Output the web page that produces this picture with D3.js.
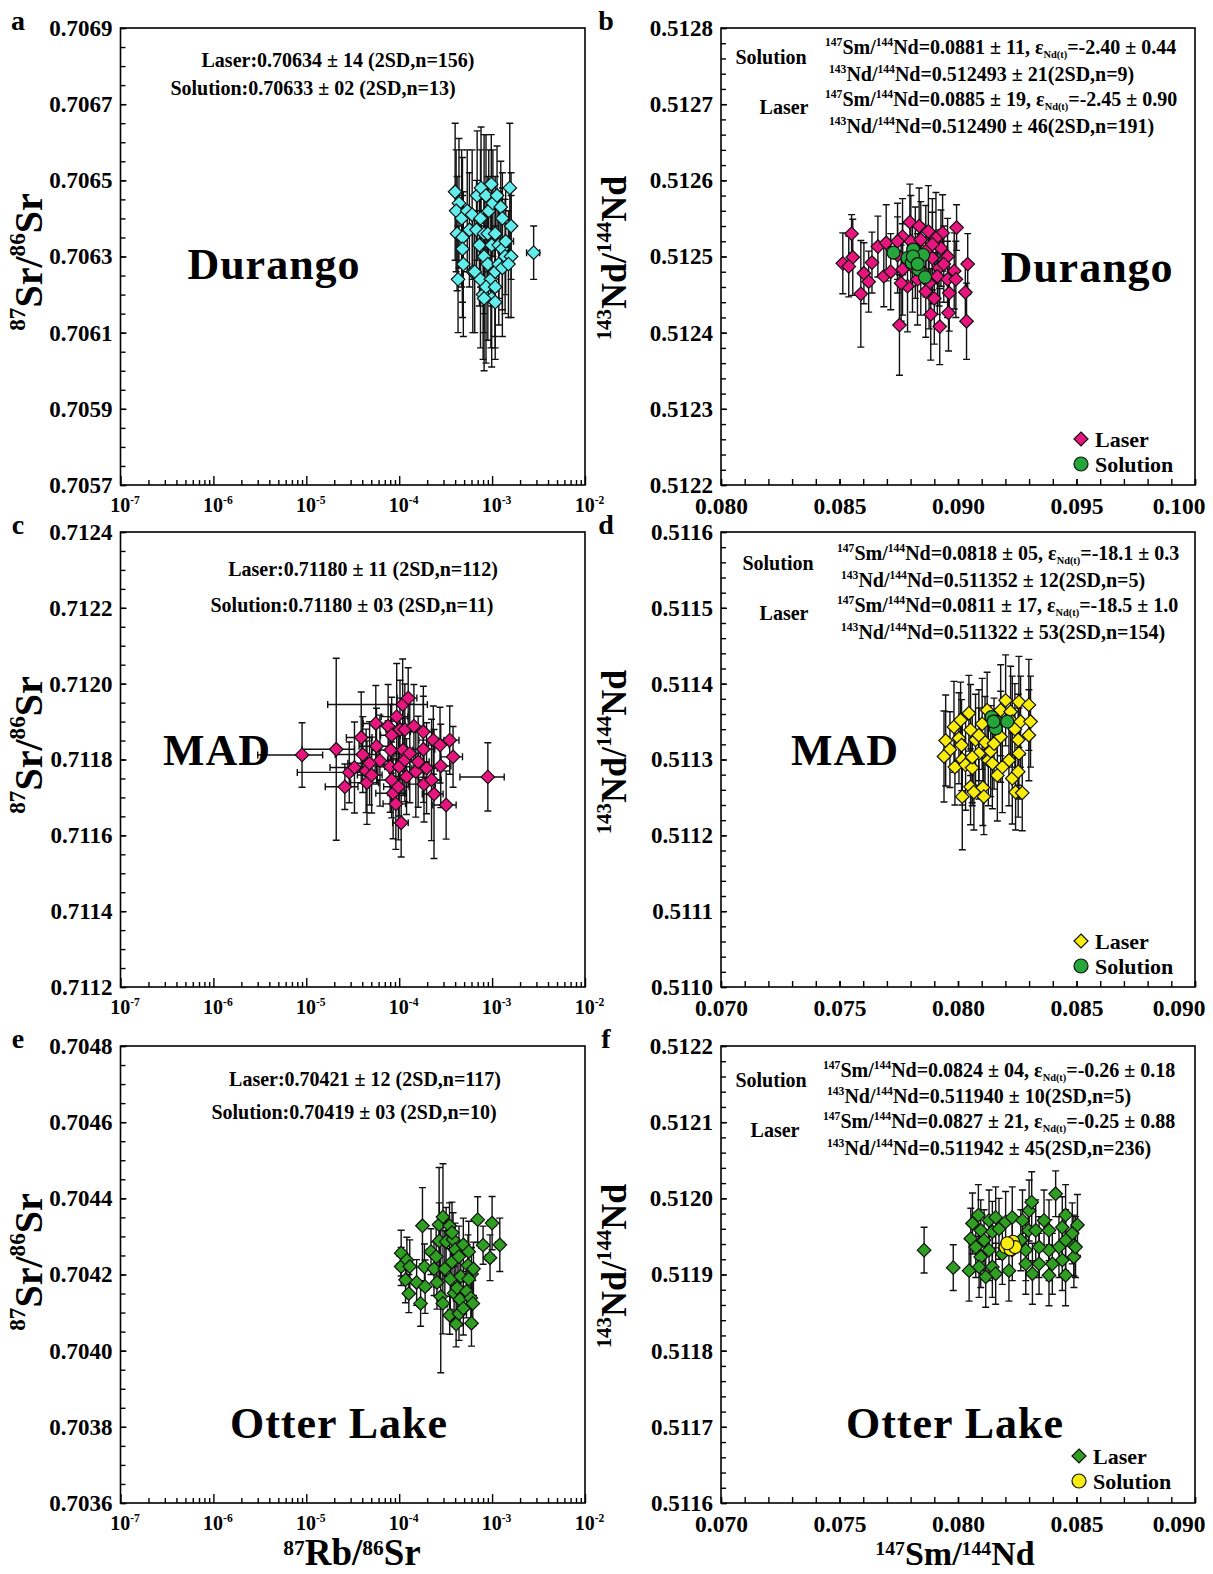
<!DOCTYPE html>
<html>
<head>
<meta charset="utf-8">
<script src="https://cdn.jsdelivr.net/npm/d3@7"></script>
<style>
  body { margin: 0; background: #fff; }
  svg { display: block; }
  text { font-family: "Liberation Serif", "Times New Roman", serif; font-weight: bold; fill: #000; }
</style>
</head>
<body>
<svg id="fig" width="1213" height="1574"></svg>
<script>
// ---- Sr isotopes: [87Rb/86Sr, 87Sr/86Sr, 2SD x, 2SD y] ----
const durangoSrLaser = [
  [4.0e-4,0.70647,2e-5,0.00018],[4.4e-4,0.70644,2e-5,0.00017],[4.1e-4,0.70642,2e-5,0.00016],
  [4.7e-4,0.70640,3e-5,0.00018],[4.2e-4,0.70636,2e-5,0.00015],[4.8e-4,0.70635,3e-5,0.00021],
  [4.8e-4,0.70632,3e-5,0.00014],[4.9e-4,0.70628,3e-5,0.00019],[4.3e-4,0.70624,2e-5,0.00014],
  [5.4e-4,0.70642,3e-5,0.00016],[6.1e-4,0.70641,4e-5,0.00017],[5.7e-4,0.70637,3e-5,0.00015],
  [6.2e-4,0.70626,4e-5,0.00016],[6.9e-4,0.70646,4e-5,0.00017],[7.6e-4,0.70648,5e-5,0.00016],
  [8.6e-4,0.70646,5e-5,0.00016],[9.8e-4,0.70649,6e-5,0.00013],[6.8e-4,0.70637,4e-5,0.00013],
  [7.5e-4,0.70640,5e-5,0.00018],[8.2e-4,0.70636,5e-5,0.00026],[9.2e-4,0.70642,6e-5,0.00016],
  [1.02e-3,0.70644,6e-5,0.00014],[1.13e-3,0.70646,7e-5,0.00013],[1.24e-3,0.70643,8e-5,0.00012],
  [1.55e-3,0.70648,9e-5,0.00017],[1.6e-3,0.70638,9e-5,0.00014],[1.29e-3,0.70640,8e-5,0.00012],
  [7.3e-4,0.70633,5e-5,0.00016],[8.2e-4,0.70630,5e-5,0.00015],[9.0e-4,0.70636,6e-5,0.00015],
  [9.9e-4,0.70633,6e-5,0.00016],[1.08e-3,0.70636,7e-5,0.00015],[1.18e-3,0.70633,7e-5,0.00014],
  [1.29e-3,0.70632,8e-5,0.00016],[1.4e-3,0.70634,3e-4,0.00014],[1.38e-3,0.70630,8e-5,0.00015],
  [1.6e-3,0.70630,9e-5,0.00016],[6.5e-4,0.70626,4e-5,0.00016],[7.5e-4,0.70624,5e-5,0.00018],
  [9.0e-4,0.70628,6e-5,0.00020],[9.7e-4,0.70624,6e-5,0.00018],[1.08e-3,0.70626,7e-5,0.00017],
  [1.18e-3,0.70628,7e-5,0.00016],[1.29e-3,0.70627,8e-5,0.00018],[8.0e-4,0.70620,5e-5,0.00017],
  [8.6e-4,0.70622,5e-5,0.00020],[9.9e-4,0.70619,6e-5,0.00018],[1.08e-3,0.70622,6e-5,0.00016],
  [1.08e-3,0.70618,6e-5,0.00015],[8.2e-4,0.70619,5e-5,0.00019],[1.5e-3,0.70628,9e-5,0.00014],
  [2.8e-3,0.70631,4.5e-4,0.00007]
];
const madSrLaser = [
  [9.0e-6,0.711812,6e-6,0.000085],[2.1e-5,0.711827,1.2e-5,0.00024],[2.6e-5,0.711728,1.0e-5,0.00006],
  [2.9e-5,0.711766,2.1e-5,0.00008],[3.3e-5,0.711779,1.5e-5,0.00012],[3.9e-5,0.711858,1.2e-5,0.00012],
  [4.05e-5,0.711813,2e-5,0.00010],[4.4e-5,0.711770,1.5e-5,0.00011],[4.5e-5,0.711739,1.5e-5,0.00011],
  [5.6e-5,0.711895,1.5e-5,0.00010],[5.7e-5,0.711835,2e-5,0.00010],[6.2e-5,0.711797,2e-5,0.00012],
  [5.05e-5,0.711759,1.5e-5,0.00010],[7.6e-5,0.711888,2e-5,0.00011],[8.3e-5,0.711864,2e-5,0.00010],
  [8.1e-5,0.711825,3e-5,0.00012],[8.0e-5,0.711781,2.5e-5,0.00012],[8.3e-5,0.711746,2.5e-5,0.00010],
  [8.6e-5,0.711711,3e-5,0.00012],[9.2e-5,0.711683,2.5e-5,0.00012],[1.05e-4,0.711633,2e-5,0.00009],
  [9.8e-5,0.711728,3e-5,0.00014],[1.0e-4,0.711781,3e-5,0.00013],[1.02e-4,0.711879,3e-5,0.00013],
  [1.09e-4,0.711945,9.2e-5,0.00012],[1.25e-4,0.711962,3e-5,0.00008],[9.4e-5,0.711913,3e-5,0.00014],
  [1.15e-4,0.711879,3e-5,0.00012],[1.1e-4,0.711825,3e-5,0.00012],[1.15e-4,0.711799,4e-5,0.00011],
  [1.2e-4,0.711755,4e-5,0.00010],[1.3e-4,0.711816,4e-5,0.00013],[1.44e-4,0.711888,4e-5,0.00011],
  [1.51e-4,0.711768,5e-5,0.00012],[1.6e-4,0.711794,5e-5,0.00012],[1.82e-4,0.711873,5e-5,0.00012],
  [1.82e-4,0.711827,6e-5,0.00014],[1.97e-4,0.711777,6e-5,0.00012],[1.85e-4,0.711735,6e-5,0.00010],
  [2.23e-4,0.711746,6e-5,0.00016],[2.37e-4,0.711709,6e-5,0.00017],[2.33e-4,0.711851,7e-5,0.00009],
  [2.75e-4,0.711838,7e-5,0.00010],[2.8e-4,0.711783,8e-5,0.00011],[3.5e-4,0.711851,9e-5,0.00009],
  [3.8e-4,0.711807,1e-4,0.00008],[3.2e-4,0.711680,9e-5,0.00009],[9.0e-4,0.711754,4.5e-4,0.00009],
  [4.8e-5,0.711790,2e-5,0.00011]
];
const otterSrLaser = [
  [1.05e-4,0.704256,1e-5,0.00006],[1.05e-4,0.704221,1e-5,0.00005],[1.21e-4,0.704238,1e-5,0.00006],
  [1.3e-4,0.704221,1e-5,0.00007],[1.17e-4,0.704186,1e-5,0.00006],[1.27e-4,0.704150,1e-5,0.00005],
  [1.54e-4,0.704179,1.5e-5,0.00006],[1.7e-4,0.704124,1.5e-5,0.00006],[1.78e-4,0.704328,1.5e-5,0.00010],
  [1.87e-4,0.704220,1.5e-5,0.00006],[1.9e-4,0.704168,2e-5,0.00007],[2.2e-4,0.704260,2e-5,0.00006],
  [2.37e-4,0.704215,2e-5,0.00007],[2.5e-4,0.704247,2e-5,0.00008],[2.55e-4,0.704179,2e-5,0.00007],
  [2.69e-4,0.704331,2.5e-5,0.00015],[2.7e-4,0.704288,2.5e-5,0.00010],[2.96e-4,0.704351,2.5e-5,0.00014],
  [2.8e-4,0.704142,2.5e-5,0.00020],[2.95e-4,0.704124,2.5e-5,0.00008],[3.1e-4,0.704215,3e-5,0.00010],
  [3.2e-4,0.704286,3e-5,0.00009],[3.48e-4,0.704328,3e-5,0.00006],[3.55e-4,0.704188,3e-5,0.00008],
  [3.8e-4,0.704292,3e-5,0.00007],[3.7e-4,0.704233,3e-5,0.00008],[3.5e-4,0.704093,3e-5,0.00005],
  [3.9e-4,0.704151,3.5e-5,0.00007],[4.0e-4,0.704265,3.5e-5,0.00007],[4.2e-4,0.704165,3.5e-5,0.00007],
  [4.1e-4,0.704070,3.5e-5,0.00006],[4.4e-4,0.704097,4e-5,0.00007],[4.4e-4,0.704247,4e-5,0.00008],
  [4.5e-4,0.704135,4e-5,0.00007],[4.6e-4,0.704195,4e-5,0.00008],[4.9e-4,0.704278,4e-5,0.00007],
  [4.9e-4,0.704111,4e-5,0.00007],[5.3e-4,0.704156,5e-5,0.00007],[5.5e-4,0.704224,5e-5,0.00008],
  [5.6e-4,0.704260,5e-5,0.00008],[5.9e-4,0.704138,5e-5,0.00007],[6.0e-4,0.704201,5e-5,0.00007],
  [6.2e-4,0.704124,5e-5,0.00006],[6.0e-4,0.704072,5e-5,0.00006],[6.3e-4,0.704215,5e-5,0.00007],
  [7.0e-4,0.704344,6e-5,0.00006],[8.0e-4,0.704277,8e-5,0.00005],[9.5e-4,0.704244,1e-4,0.00006],
  [1.0e-3,0.704335,1e-4,0.00007],[1.21e-3,0.704278,1.2e-4,0.00007],[5.6e-4,0.704188,5e-5,0.00007],
  [3.7e-4,0.704310,3e-5,0.00008]
];

// ---- Nd isotopes: [147Sm/144Nd, 143Nd/144Nd, 2SD x, 2SD y] ----
const durangoNdLaser = [
  [0.08514,0.512491,0.0001,0.00004],[0.08551,0.512530,0.0001,0.000025],[0.08556,0.512499,0.0001,0.00005],
  [0.08539,0.512487,0.0001,0.00004],[0.08590,0.512451,0.0001,0.00007],[0.08603,0.512478,0.0001,0.00004],
  [0.08623,0.512467,0.0001,0.00004],[0.08637,0.512492,0.0001,0.00004],[0.08662,0.512513,0.0001,0.00004],
  [0.08687,0.512474,0.0001,0.00004],[0.08753,0.512410,0.0001,0.000066],[0.08885,0.512424,0.0001,0.00006],
  [0.08923,0.512408,0.0001,0.00005],[0.08960,0.512426,0.0001,0.00005],[0.09036,0.512415,0.0001,0.00005],
  [0.09041,0.512490,0.0001,0.00004],[0.08994,0.512538,0.0001,0.00003],[0.09031,0.512453,0.0001,0.00004],
  [0.08697,0.512518,0.0001,0.00005],[0.08797,0.512545,0.0001,0.00005],[0.08836,0.512540,0.0001,0.00005],
  [0.08875,0.512533,0.0001,0.00006],[0.08935,0.512531,0.0001,0.00005],[0.08766,0.512526,0.0001,0.00005],
  [0.08801,0.512520,0.0001,0.00006],[0.08843,0.512522,0.0001,0.00005],[0.08907,0.512524,0.0001,0.00006],
  [0.08745,0.512502,0.0001,0.00005],[0.08864,0.512507,0.0001,0.00006],[0.08928,0.512511,0.0001,0.00005],
  [0.08892,0.512498,0.0001,0.00006],[0.08956,0.512500,0.0001,0.00005],[0.08766,0.512483,0.0001,0.00006],
  [0.08808,0.512487,0.0001,0.00006],[0.08920,0.512485,0.0001,0.00005],[0.08984,0.512481,0.0001,0.00005],
  [0.08716,0.512480,0.0001,0.00005],[0.08787,0.512461,0.0001,0.00006],[0.08829,0.512470,0.0001,0.00006],
  [0.08878,0.512465,0.0001,0.00006],[0.08913,0.512474,0.0001,0.00005],[0.08956,0.512470,0.0001,0.00005],
  [0.08991,0.512470,0.0001,0.00005],[0.08864,0.512454,0.0001,0.00006],[0.08963,0.512452,0.0001,0.00005],
  [0.08843,0.512483,0.0001,0.00006],[0.08745,0.512520,0.0001,0.00005],[0.08892,0.512516,0.0001,0.00006],
  [0.08760,0.512465,0.0001,0.00005],[0.08900,0.512445,0.0001,0.00006],[0.08820,0.512505,0.0001,0.00006],
  [0.08940,0.512490,0.0001,0.00005]
];
const durangoNdSolution = [
  [0.08728,0.512505],[0.08787,0.512498],[0.08811,0.512509],[0.08805,0.512492],[0.08853,0.512502],
  [0.08833,0.512483],[0.08861,0.512473],[0.08810,0.512500],[0.08830,0.512490]
];
const madNdLaser = [
  [0.07948,0.511325,0.0001,0.00006],[0.07966,0.511313,0.0001,0.00005],[0.07941,0.511304,0.0001,0.00006],
  [0.07983,0.511343,0.0001,0.00006],[0.08011,0.511352,0.0001,0.00005],[0.08046,0.511361,0.0001,0.00005],
  [0.08004,0.511328,0.0001,0.00006],[0.08015,0.511319,0.0001,0.00006],[0.07987,0.511290,0.0001,0.00005],
  [0.08018,0.511300,0.0001,0.00006],[0.08032,0.511293,0.0001,0.00006],[0.08060,0.511289,0.0001,0.00005],
  [0.08053,0.511339,0.0001,0.00006],[0.08074,0.511326,0.0001,0.00006],[0.08088,0.511308,0.0001,0.00006],
  [0.08102,0.511347,0.0001,0.00006],[0.08114,0.511323,0.0001,0.00006],[0.08128,0.511299,0.0001,0.00006],
  [0.08138,0.511311,0.0001,0.00006],[0.08152,0.511321,0.0001,0.00006],[0.08123,0.511365,0.0001,0.00005],
  [0.08180,0.511365,0.0001,0.00006],[0.08201,0.511378,0.0001,0.00006],[0.08222,0.511363,0.0001,0.00006],
  [0.08229,0.511350,0.0001,0.00006],[0.08240,0.511340,0.0001,0.00006],[0.08257,0.511376,0.0001,0.00006],
  [0.08299,0.511372,0.0001,0.00006],[0.08264,0.511350,0.0001,0.00006],[0.08306,0.511350,0.0001,0.00006],
  [0.08299,0.511332,0.0001,0.00006],[0.08254,0.511326,0.0001,0.00006],[0.08257,0.511308,0.0001,0.00006],
  [0.08215,0.511299,0.0001,0.00006],[0.08187,0.511290,0.0001,0.00006],[0.08166,0.511279,0.0001,0.00006],
  [0.08229,0.511275,0.0001,0.00006],[0.08254,0.511284,0.0001,0.00006],[0.08053,0.511264,0.0001,0.00005],
  [0.08018,0.511251,0.0001,0.00007],[0.08067,0.511257,0.0001,0.00005],[0.08105,0.511263,0.0001,0.00005],
  [0.08109,0.511251,0.0001,0.00005],[0.08243,0.511257,0.0001,0.00005],[0.08271,0.511256,0.0001,0.00005],
  [0.08060,0.511303,0.0001,0.00006],[0.08088,0.511332,0.0001,0.00006],[0.08180,0.511330,0.0001,0.00006],
  [0.08145,0.511295,0.0001,0.00006]
];
const madNdSolution = [
  [0.08142,0.511356],[0.08161,0.511350],[0.08159,0.511341],[0.08208,0.511350],[0.08150,0.511350]
];
const otterNdLaser = [
  [0.07857,0.511932,0.0001,0.00003],[0.07980,0.511909,0.0001,0.00003],[0.08061,0.511967,0.0001,0.00004],
  [0.08086,0.511978,0.0001,0.00004],[0.08054,0.511947,0.0001,0.00004],[0.08096,0.511958,0.0001,0.00004],
  [0.08075,0.511936,0.0001,0.00004],[0.08110,0.511945,0.0001,0.00004],[0.08047,0.511905,0.0001,0.00004],
  [0.08096,0.511923,0.0001,0.00004],[0.08131,0.511971,0.0001,0.00004],[0.08145,0.511956,0.0001,0.00004],
  [0.08159,0.511975,0.0001,0.00004],[0.08131,0.511932,0.0001,0.00004],[0.08089,0.511910,0.0001,0.00004],
  [0.08145,0.511910,0.0001,0.00004],[0.08173,0.511960,0.0001,0.00004],[0.08201,0.511969,0.0001,0.00004],
  [0.08229,0.511975,0.0001,0.00004],[0.08272,0.511971,0.0001,0.00004],[0.08300,0.511984,0.0001,0.00004],
  [0.08311,0.511995,0.0001,0.00004],[0.08297,0.511958,0.0001,0.00004],[0.08328,0.511958,0.0001,0.00004],
  [0.08363,0.511971,0.0001,0.00004],[0.08384,0.511958,0.0001,0.00004],[0.08412,0.512006,0.0001,0.00003],
  [0.08454,0.511978,0.0001,0.00004],[0.08440,0.511962,0.0001,0.00004],[0.08482,0.511954,0.0001,0.00004],
  [0.08504,0.511965,0.0001,0.00004],[0.08489,0.511938,0.0001,0.00004],[0.08454,0.511945,0.0001,0.00004],
  [0.08426,0.511936,0.0001,0.00004],[0.08384,0.511932,0.0001,0.00004],[0.08342,0.511936,0.0001,0.00004],
  [0.08286,0.511932,0.0001,0.00004],[0.08265,0.511945,0.0001,0.00004],[0.08229,0.511932,0.0001,0.00004],
  [0.08187,0.511927,0.0001,0.00004],[0.08286,0.511914,0.0001,0.00004],[0.08342,0.511914,0.0001,0.00004],
  [0.08398,0.511914,0.0001,0.00004],[0.08440,0.511919,0.0001,0.00004],[0.08489,0.511923,0.0001,0.00004],
  [0.08496,0.511936,0.0001,0.00004],[0.08215,0.511905,0.0001,0.00004],[0.08159,0.511901,0.0001,0.00004],
  [0.08314,0.511901,0.0001,0.00004],[0.08384,0.511899,0.0001,0.00004],[0.08454,0.511899,0.0001,0.00004],
  [0.08117,0.511897,0.0001,0.00004]
];
const otterNdSolution = [
  [0.08201,0.511936],[0.08232,0.511943],[0.08222,0.511933],[0.08241,0.511936],[0.08208,0.511941]
];

// ---- axis ticks ----
const rbSrDecades = [1e-7, 1e-6, 1e-5, 1e-4, 1e-3, 1e-2];
const durangoSrTicks = [0.7057, 0.7059, 0.7061, 0.7063, 0.7065, 0.7067, 0.7069];
const madSrTicks = [0.7112, 0.7114, 0.7116, 0.7118, 0.7120, 0.7122, 0.7124];
const otterSrTicks = [0.7036, 0.7038, 0.7040, 0.7042, 0.7044, 0.7046, 0.7048];
const durangoNdTicks = [0.5122, 0.5123, 0.5124, 0.5125, 0.5126, 0.5127, 0.5128];
const madNdTicks = [0.5110, 0.5111, 0.5112, 0.5113, 0.5114, 0.5115, 0.5116];
const otterNdTicks = [0.5116, 0.5117, 0.5118, 0.5119, 0.5120, 0.5121, 0.5122];
const durangoSmNdTicks = [0.080, 0.085, 0.090, 0.095, 0.100];
const smNdTicks = [0.070, 0.075, 0.080, 0.085, 0.090];

const COL = {
  cyan: '#62eded', pink: '#e8157e', greenDot: '#25a63a', yellow: '#f7ec0c',
  greenDia: '#2f9f22', yellowDot: '#f8ec10'
};

const svg = d3.select('#fig');
const PAGE_W = 1213;

// Writes a run of normal / superscript / subscript pieces into a <text>.
function rich(textSel, segs, size, supRaise) {
  const raise = supRaise || 0.42;
  let shift = 0;
  segs.forEach(([t, k]) => {
    const target = k === 'sup' ? -raise * size : k === 'sub' ? 0.22 * size : 0;
    const fs = k === 'sup' ? 0.58 * size : k === 'sub' ? 0.52 * size : size;
    textSel.append('tspan').attr('dy', (target - shift).toFixed(2)).attr('font-size', fs).text(t);
    shift = target;
  });
  return textSel;
}

function diamondPath(r) { return `M0,${-r}L${r},0L0,${r}L${-r},0Z`; }

function drawPanel(c) {
  const g = svg.append('g');
  const x = c.xLog ? d3.scaleLog().domain(c.xDomain).range([c.L, c.R])
                   : d3.scaleLinear().domain(c.xDomain).range([c.L, c.R]);
  const y = d3.scaleLinear().domain([c.yTicks[0], c.yTicks[c.yTicks.length - 1]]).range([c.B, c.T]);

  // y axis: minor then labelled major ticks, pointing inward
  const ySpan = c.yTicks[c.yTicks.length - 1] - c.yTicks[0];
  const nMinor = Math.round(ySpan / c.yMinorStep);
  const yMinor = d3.range(nMinor + 1).map(i => c.yTicks[0] + i * c.yMinorStep);
  g.append('g').attr('transform', `translate(${c.L},0)`)
    .call(d3.axisLeft(y).tickValues(yMinor).tickSize(-5).tickFormat(''))
    .call(s => s.select('.domain').remove());
  g.append('g').attr('transform', `translate(${c.L},0)`)
    .call(d3.axisLeft(y).tickValues(c.yTicks).tickSize(-6).tickPadding(8).tickFormat(d3.format('.4f')))
    .call(s => s.select('.domain').remove())
    .call(s => s.selectAll('text').attr('font-size', 23).attr('font-family', null));

  // x axis
  if (c.xLog) {
    const minor = [];
    for (let e = -7; e < -2; e++) for (let k = 2; k <= 9; k++) minor.push(k * Math.pow(10, e));
    g.append('g').attr('transform', `translate(0,${c.B})`)
      .call(d3.axisBottom(x).tickValues(minor).tickSize(-5).tickFormat(''))
      .call(s => s.select('.domain').remove());
    const ax = g.append('g').attr('transform', `translate(0,${c.B})`)
      .call(d3.axisBottom(x).tickValues(rbSrDecades).tickSize(-9).tickPadding(14).tickFormat(''))
      .call(s => s.select('.domain').remove());
    ax.selectAll('.tick').each(function (d) {
      const t = d3.select(this).append('text').attr('y', 27).attr('text-anchor', 'middle')
        .attr('font-family', null).attr('x', 4);
      rich(t, [['10', 'n'], [String(Math.round(Math.log10(d))), 'sup']], 20);
    });
  } else {
    const nx = Math.round((c.xDomain[1] - c.xDomain[0]) / 0.001);
    const xMinor = d3.range(nx + 1).map(i => c.xDomain[0] + i * 0.001);
    g.append('g').attr('transform', `translate(0,${c.B})`)
      .call(d3.axisBottom(x).tickValues(xMinor).tickSize(-6).tickFormat(''))
      .call(s => s.select('.domain').remove());
    const ax = g.append('g').attr('transform', `translate(0,${c.B})`)
      .call(d3.axisBottom(x).tickValues(c.xTicks).tickSize(-6).tickPadding(12).tickFormat(d3.format('.3f')))
      .call(s => s.select('.domain').remove())
      .call(s => s.selectAll('text').attr('font-size', 23.5).attr('font-family', null));
    // keep the last label inside the page
    ax.selectAll('.tick').filter((d, i, n) => i === n.length - 1).select('text')
      .attr('text-anchor', 'end').attr('x', PAGE_W - 8 - c.R);
  }
  g.selectAll('.tick line').attr('stroke', '#000').attr('stroke-width', 1.4);

  // frame
  g.append('rect').attr('x', c.L).attr('y', c.T).attr('width', c.R - c.L).attr('height', c.B - c.T)
    .attr('fill', 'none').attr('stroke', '#000').attr('stroke-width', 1.6);

  // error bars (2SD) for laser spots
  const eb = g.append('g').attr('stroke', '#111').attr('stroke-width', 1.4).attr('fill', 'none');
  const xlo = v => c.xLog ? Math.max(v, c.xDomain[0]) : v;
  c.laser.forEach(([vx, vy, ex, ey]) => {
    const px = x(vx), py = y(vy);
    const y1 = y(vy - ey), y2 = y(vy + ey);
    const x1 = x(xlo(vx - ex)), x2 = x(vx + ex);
    eb.append('path').attr('d',
      `M${px},${y1}V${y2}M${px - 3.5},${y1}H${px + 3.5}M${px - 3.5},${y2}H${px + 3.5}` +
      `M${x1},${py}H${x2}M${x1},${py - 3.5}V${py + 3.5}M${x2},${py - 3.5}V${py + 3.5}`);
  });

  // laser spots
  g.append('g').selectAll('path').data(c.laser).join('path')
    .attr('d', diamondPath(6.8))
    .attr('transform', d => `translate(${x(d[0])},${y(d[1])})`)
    .attr('fill', c.laserColor).attr('stroke', '#111').attr('stroke-width', 1.2);

  // solution analyses
  if (c.solution) {
    g.append('g').selectAll('circle').data(c.solution).join('circle')
      .attr('cx', d => x(d[0])).attr('cy', d => y(d[1])).attr('r', 6.5)
      .attr('fill', c.solutionColor).attr('stroke', '#111').attr('stroke-width', 1.2);
  }

  // panel letter
  g.append('text').attr('x', c.letterX).attr('y', c.T + 2).attr('font-size', 28).attr('text-anchor', 'middle')
    .text(c.letter);

  // sample name
  g.append('text').attr('x', c.name[1]).attr('y', c.name[2] + 15).attr('font-size', 44)
    .attr('text-anchor', 'middle').attr('letter-spacing', 1).text(c.name[0]);

  // summary statistics
  (c.notes || []).forEach(n => {
    const t = g.append('text').attr('x', n.x).attr('y', n.y + 7).attr('font-size', 20)
      .attr('text-anchor', n.anchor || 'middle');
    rich(t, n.segs, 20);
  });

  // legend
  if (c.legend) {
    const [lx, ly] = c.legend;
    g.append('path').attr('d', diamondPath(7)).attr('transform', `translate(${lx},${ly})`)
      .attr('fill', c.laserColor).attr('stroke', '#111').attr('stroke-width', 1.2);
    g.append('circle').attr('cx', lx).attr('cy', ly + 25).attr('r', 7)
      .attr('fill', c.solutionColor).attr('stroke', '#111').attr('stroke-width', 1.2);
    g.append('text').attr('x', lx + 14).attr('y', ly + 8).attr('font-size', 22).text('Laser');
    g.append('text').attr('x', lx + 14).attr('y', ly + 33).attr('font-size', 22).text('Solution');
  }

  // y axis title
  const yt = g.append('text').attr('text-anchor', 'middle')
    .attr('transform', `translate(${c.yTitle[0] + 12},${c.yTitle[1]}) rotate(-90)`);
  rich(yt, c.yTitleSegs, c.yTitleSize);
}

const srTitle = [['87', 'sup'], ['Sr/', 'n'], ['86', 'sup'], ['Sr', 'n']];
const ndTitle = [['143', 'sup'], ['Nd/', 'n'], ['144', 'sup'], ['Nd', 'n']];

function srNotes(cx1, y1, laser, cx2, y2, sol) {
  return [
    { x: cx1, y: y1, segs: [[laser, 'n']] },
    { x: cx2, y: y2, segs: [[sol, 'n']] }
  ];
}
function ndNotes(xs, ys, solLab, lasLab, vals) {
  // vals: [smSol, epsSol, ndSol, smLas, epsLas, ndLas]
  return [
    { x: solLab[0], y: solLab[1], segs: [['Solution', 'n']] },
    { x: lasLab[0], y: lasLab[1], segs: [['Laser', 'n']] },
    { x: xs[0], y: ys[0], anchor: 'start', segs: [['147', 'sup'], ['Sm/', 'n'], ['144', 'sup'], ['Nd=' + vals[0] + ', ', 'n'], ['ε', 'n'], ['Nd(t)', 'sub'], ['=' + vals[1], 'n']] },
    { x: xs[1], y: ys[1], anchor: 'start', segs: [['143', 'sup'], ['Nd/', 'n'], ['144', 'sup'], ['Nd=' + vals[2], 'n']] },
    { x: xs[0], y: ys[2], anchor: 'start', segs: [['147', 'sup'], ['Sm/', 'n'], ['144', 'sup'], ['Nd=' + vals[3] + ', ', 'n'], ['ε', 'n'], ['Nd(t)', 'sub'], ['=' + vals[4], 'n']] },
    { x: xs[1], y: ys[3], anchor: 'start', segs: [['143', 'sup'], ['Nd/', 'n'], ['144', 'sup'], ['Nd=' + vals[5], 'n']] }
  ];
}

const panels = [
  { letter: 'a', letterX: 18, L: 120.5, R: 585, T: 28, B: 485, xLog: true, xDomain: [1e-7, 1e-2],
    yTicks: durangoSrTicks, yMinorStep: 0.00005, laser: durangoSrLaser, laserColor: COL.cyan,
    name: ['Durango', 274, 264], yTitle: [30, 262], yTitleSegs: srTitle, yTitleSize: 40,
    notes: srNotes(338, 60, 'Laser:0.70634 ± 14 (2SD,n=156)', 313, 88, 'Solution:0.70633 ± 02 (2SD,n=13)') },
  { letter: 'b', letterX: 606, L: 721, R: 1195, T: 28, B: 485, xLog: false, xDomain: [0.080, 0.100],
    xTicks: durangoSmNdTicks, yTicks: durangoNdTicks, yMinorStep: 0.00002,
    laser: durangoNdLaser, laserColor: COL.pink, solution: durangoNdSolution, solutionColor: COL.greenDot,
    name: ['Durango', 1087, 267], yTitle: [614, 258], yTitleSegs: ndTitle, yTitleSize: 36, legend: [1081, 439],
    notes: ndNotes([825, 829], [47, 74, 99, 126], [771, 57], [784, 107],
      ['0.0881 ± 11', '-2.40 ± 0.44', '0.512493 ± 21(2SD,n=9)', '0.0885 ± 19', '-2.45 ± 0.90', '0.512490 ± 46(2SD,n=191)']) },
  { letter: 'c', letterX: 18, L: 120.5, R: 585, T: 532, B: 987, xLog: true, xDomain: [1e-7, 1e-2],
    yTicks: madSrTicks, yMinorStep: 0.00005, laser: madSrLaser, laserColor: COL.pink,
    name: ['MAD', 217, 750], yTitle: [30, 745], yTitleSegs: srTitle, yTitleSize: 40,
    notes: srNotes(363, 569, 'Laser:0.71180 ± 11 (2SD,n=112)', 352, 605, 'Solution:0.71180 ± 03 (2SD,n=11)') },
  { letter: 'd', letterX: 606, L: 721, R: 1195, T: 532, B: 987, xLog: false, xDomain: [0.070, 0.090],
    xTicks: smNdTicks, yTicks: madNdTicks, yMinorStep: 0.00002,
    laser: madNdLaser, laserColor: COL.yellow, solution: madNdSolution, solutionColor: COL.greenDot,
    name: ['MAD', 845, 750], yTitle: [614, 752], yTitleSegs: ndTitle, yTitleSize: 36, legend: [1081, 941],
    notes: ndNotes([837, 841], [553, 580, 605, 632], [778, 563], [784, 613],
      ['0.0818 ± 05', '-18.1 ± 0.3', '0.511352 ± 12(2SD,n=5)', '0.0811 ± 17', '-18.5 ± 1.0', '0.511322 ± 53(2SD,n=154)']) },
  { letter: 'e', letterX: 18, L: 120.5, R: 585, T: 1046, B: 1503, xLog: true, xDomain: [1e-7, 1e-2],
    yTicks: otterSrTicks, yMinorStep: 0.00005, laser: otterSrLaser, laserColor: COL.greenDia,
    name: ['Otter Lake', 339, 1423], yTitle: [30, 1262], yTitleSegs: srTitle, yTitleSize: 40,
    notes: srNotes(365, 1079, 'Laser:0.70421 ± 12 (2SD,n=117)', 354, 1112, 'Solution:0.70419 ± 03 (2SD,n=10)') },
  { letter: 'f', letterX: 606, L: 721, R: 1195, T: 1046, B: 1503, xLog: false, xDomain: [0.070, 0.090],
    xTicks: smNdTicks, yTicks: otterNdTicks, yMinorStep: 0.00002,
    laser: otterNdLaser, laserColor: COL.greenDia, solution: otterNdSolution, solutionColor: COL.yellowDot,
    name: ['Otter Lake', 955, 1423], yTitle: [614, 1266], yTitleSegs: ndTitle, yTitleSize: 36, legend: [1079, 1456],
    notes: ndNotes([823, 827], [1070, 1096, 1121, 1148], [771, 1080], [775, 1130],
      ['0.0824 ± 04', '-0.26 ± 0.18', '0.511940 ± 10(2SD,n=5)', '0.0827 ± 21', '-0.25 ± 0.88', '0.511942 ± 45(2SD,n=236)']) }
];

panels.forEach(drawPanel);

// shared x axis titles
rich(svg.append('text').attr('x', 352).attr('y', 1565).attr('text-anchor', 'middle'),
  [['87', 'sup'], ['Rb/', 'n'], ['86', 'sup'], ['Sr', 'n']], 37, 0.28);
rich(svg.append('text').attr('x', 955).attr('y', 1565).attr('text-anchor', 'middle'),
  [['147', 'sup'], ['Sm/', 'n'], ['144', 'sup'], ['Nd', 'n']], 34, 0.28);
</script>
</body>
</html>
